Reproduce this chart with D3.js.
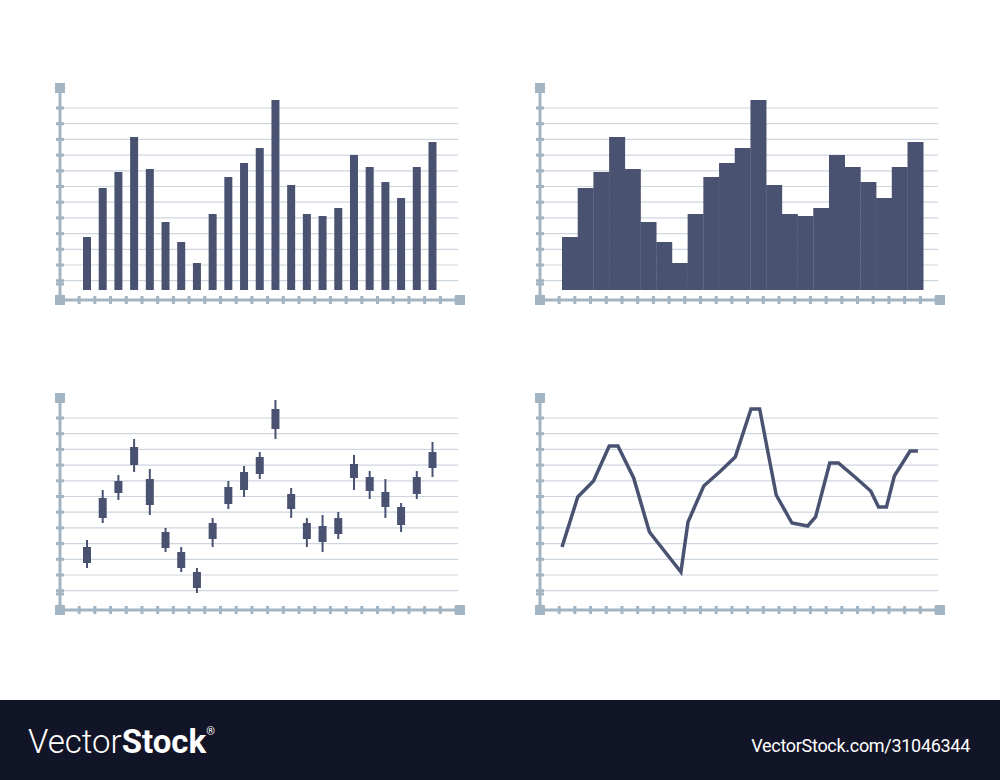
<!DOCTYPE html>
<html><head><meta charset="utf-8">
<script src="https://cdn.jsdelivr.net/npm/d3@7"></script>
<style>body{margin:0;background:#fff}</style>
</head><body>
<script>
// bar heights (shared by bar chart and step chart)
var barValues = [53,102,118,153,121,68,48,27,76,113,127,142,190,105,76,74,82,135,123,108,92,123,148];
// candlesticks: [low, bodyLow, bodyHigh, high]
var candles = [[32,37,53,60],[77,82,102,110],[100,107,119,125],[128,135,153,161],[85,95,121,131],
  [48,52,68,72],[28,32,48,53],[7,12,28,32],[53,61,77,82],[91,96,113,119],[103,110,128,134],
  [121,126,143,148],[161,171,191,200],[82,91,106,112],[53,61,77,82],[48,58,74,85],[61,66,82,88],
  [110,122,136,145],[101,109,123,129],[82,93,108,121],[68,75,93,97],[101,106,123,129],[123,132,148,158]];
// line chart: [position index, value]
var linePoints = [[0,53],[1,103],[2,119],[3,154],[3.55,154],[4.55,122],[5.55,68],[7.55,28],[8,78],[9,114],
  [10,128],[11,143],[12,191],[12.55,191],[13.6,105],[14.6,77],[15.6,74],[16.1,83],[17,137],[17.55,137],
  [18.6,123],[19.6,109],[20.1,93],[20.6,93],[21.1,124],[22.1,149],[22.6,149]];

var barColor = "#4a5272", axisColor = "#a3b4c3", gridColor = "#cdd6df";
var svg = d3.select("body").append("svg").attr("width",1000).attr("height",780);

var x = d3.scaleLinear().domain([0,22]).range([87,432.5]);
var y = d3.scaleLinear().domain([0,190]).range([290,100]);
var step = x(1) - x(0);

function frame(g){
  var gridVals = d3.range(12).map(function(k){ return 182 - k*15.7; });
  g.selectAll("line.grid").data(gridVals).enter().append("line").attr("class","grid")
    .attr("x1",60).attr("x2",458).attr("y1",function(d){return y(d);}).attr("y2",function(d){return y(d);})
    .attr("stroke",gridColor).attr("stroke-width",1.2);
  // y ticks
  g.selectAll("line.yt").data(gridVals.concat([182-12*15.7+0, 6])).enter().append("line").attr("class","yt")
    .attr("x1",56).attr("x2",64).attr("y1",function(d){return y(d);}).attr("y2",function(d){return y(d);})
    .attr("stroke",axisColor).attr("stroke-width",3);
  // x ticks
  g.selectAll("line.xt").data(d3.range(-0.5,24,1)).enter().append("line").attr("class","xt")
    .attr("x1",function(d){return x(d);}).attr("x2",function(d){return x(d);})
    .attr("y1",296).attr("y2",304).attr("stroke",axisColor).attr("stroke-width",3);
  g.append("line").attr("x1",60).attr("x2",60).attr("y1",88).attr("y2",300).attr("stroke",axisColor).attr("stroke-width",3);
  g.append("line").attr("x1",60).attr("x2",460).attr("y1",300).attr("y2",300).attr("stroke",axisColor).attr("stroke-width",3);
  [[60,88],[60,300],[460,300]].forEach(function(p){
    g.append("rect").attr("x",p[0]-5).attr("y",p[1]-5).attr("width",10).attr("height",10).attr("fill",axisColor);
  });
}

// top-left: bars
var g1 = svg.append("g");
frame(g1);
g1.selectAll("rect.bar").data(barValues).enter().append("rect").attr("class","bar")
  .attr("x",function(d,i){return x(i)-4;}).attr("width",8)
  .attr("y",function(d){return y(d);}).attr("height",function(d){return y(0)-y(d);})
  .attr("fill",barColor);

// top-right: step chart
var g2 = svg.append("g").attr("transform","translate(480,0)");
frame(g2);
g2.selectAll("rect.bar").data(barValues).enter().append("rect").attr("class","bar")
  .attr("x",function(d,i){return x(i-0.5)+step*0.5-step*0.5 - step*0.5 + step*0.5 - 25 + 0;})
  .attr("width",step+0.3)
  .attr("y",function(d){return y(d);}).attr("height",function(d){return y(0)-y(d);})
  .attr("fill",barColor);
g2.selectAll("rect.bar").attr("x",function(d,i){return x(i)-25+step*0;});
g2.selectAll("rect.bar").attr("x",function(d,i){return 562-480+i*step;});

// bottom-left: candles
var g3 = svg.append("g").attr("transform","translate(0,310)");
frame(g3);
var c = g3.selectAll("g.c").data(candles).enter().append("g");
c.append("line").attr("x1",function(d,i){return x(i);}).attr("x2",function(d,i){return x(i);})
  .attr("y1",function(d){return y(d[3]);}).attr("y2",function(d){return y(d[0]);})
  .attr("stroke",barColor).attr("stroke-width",2);
c.append("rect").attr("x",function(d,i){return x(i)-4;}).attr("width",8)
  .attr("y",function(d){return y(d[2]);}).attr("height",function(d){return y(d[1])-y(d[2]);})
  .attr("fill",barColor);

// bottom-right: line
var g4 = svg.append("g").attr("transform","translate(480,310)");
frame(g4);
var lx = d3.scaleLinear().domain([0,22]).range([82,428.5]);
g4.append("path").datum(linePoints)
  .attr("d",d3.line().x(function(d){return lx(d[0]);}).y(function(d){return y(d[1]);}))
  .attr("fill","none").attr("stroke",barColor).attr("stroke-width",3.5).attr("stroke-linejoin","miter");

// footer
svg.append("rect").attr("x",0).attr("y",700).attr("width",1000).attr("height",80).attr("fill","#121427");
var t = svg.append("text").attr("x",28).attr("y",753).attr("fill","#fff")
  .attr("font-family","Roboto, 'Open Sans', sans-serif").attr("font-size",33);
t.append("tspan").attr("font-weight",300).text("Vector");
t.append("tspan").attr("font-weight",700).text("Stock");
t.append("tspan").attr("font-size",11).attr("dy",-18).text("®");
svg.append("text").attr("x",970).attr("y",752).attr("text-anchor","end").attr("fill","#fff")
  .attr("font-family","Roboto, 'Open Sans', sans-serif").attr("font-size",18).attr("letter-spacing",-0.3)
  .text("VectorStock.com/31046344");
</script>
</body></html>
